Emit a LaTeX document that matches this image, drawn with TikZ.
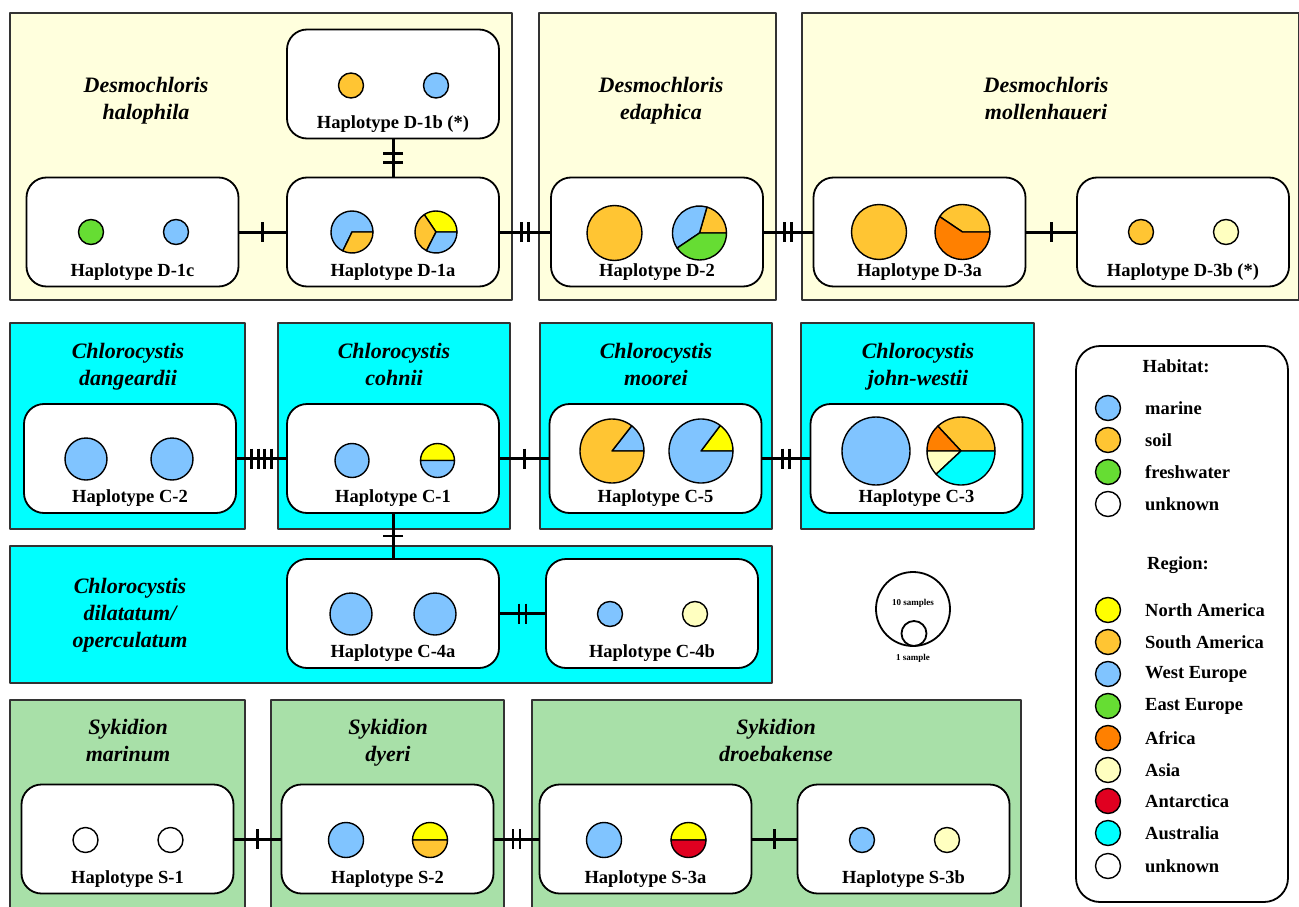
\documentclass[tikz,border=0pt]{standalone}
\usepackage{fontspec}
\setmainfont{Liberation Serif}
\usepackage{tikz}
\usetikzlibrary{decorations.markings}

\definecolor{marineblue}{RGB}{128,196,255}
\definecolor{soilorange}{RGB}{255,197,51}
\definecolor{freshgreen}{RGB}{102,221,51}
\definecolor{namyellow}{RGB}{255,255,0}
\definecolor{africaorange}{RGB}{255,128,0}
\definecolor{asiapale}{RGB}{255,255,192}
\definecolor{antred}{RGB}{224,0,32}
\definecolor{auscyan}{RGB}{0,255,255}
\definecolor{desmobg}{RGB}{255,255,221}
\definecolor{chlorobg}{RGB}{0,255,255}
\definecolor{sykibg}{RGB}{168,224,168}

% one sample circle: centre, radius, colour
\newcommand{\hapdot}[3]{\filldraw[fill=#3,draw=black,line width=1.4pt] (#1) circle[radius=#2];}
% pie wedge: centre, radius, from angle, to angle, colour
\newcommand{\pieslice}[5]{\filldraw[fill=#5,draw=black,line width=1.4pt] (#1) -- ++(-#3:#2) arc[start angle=-#3,end angle=-#4,radius=#2] -- cycle;}

\begin{document}
\begin{tikzpicture}[x=1pt,y=-1pt,line join=round,
  hapbox/.style={draw,line width=1.8pt,fill=white,rounded corners=20pt,minimum width=212pt,minimum height=109pt,inner sep=0pt},
  haplabel/.style={font=\bfseries\fontsize{18.5}{20}\selectfont,inner sep=0pt},
  taxon/.style={font=\bfseries\itshape\fontsize{22}{27}\selectfont,align=center,inner sep=0pt,execute at end node=\strut},
  legtext/.style={font=\bfseries\fontsize{18.5}{20}\selectfont,anchor=west,inner sep=0pt},
  link/.style={line width=3pt},
  bars/.style={postaction={decorate},decoration={markings,mark=at position 0.5 with {\foreach \o in {#1} {\draw[line width=2.8pt] (\o,-10) -- (\o,10);}}}},
  dpanel/.style={draw=black!80,line width=1.4pt,fill=desmobg},
  cpanel/.style={draw=black!80,line width=1.4pt,fill=chlorobg},
  spanel/.style={draw=black!80,line width=1.4pt,fill=sykibg}]
\useasboundingbox (0,0) rectangle (1299,907);

% Desmochloris row
\draw[dpanel] (10,13) rectangle (512,300);
\draw[dpanel] (539,13) rectangle (776,300);
\draw[dpanel] (802,13) rectangle (1299,300);
\node[taxon] (t-halo) at (146,102) {Desmochloris\\halophila};
\node[taxon] (t-edaph) at (661,102) {Desmochloris\\edaphica};
\node[taxon] (t-moll) at (1046,102) {Desmochloris\\mollenhaueri};

\node[hapbox] (hap-d1b) at (393,84) {};
\node[hapbox] (hap-d1c) at (132.5,232) {};
\node[hapbox] (hap-d1a) at (393,232) {};
\node[hapbox] (hap-d2) at (657,232) {};
\node[hapbox] (hap-d3a) at (919.5,232) {};
\node[hapbox] (hap-d3b) at (1183,232) {};
\node[haplabel] (lab-d1b) at ([yshift=-40pt]hap-d1b.center) {Haplotype D-1b (*)};
\node[haplabel] (lab-d1c) at ([yshift=-40pt]hap-d1c.center) {Haplotype D-1c};
\node[haplabel] (lab-d1a) at ([yshift=-40pt]hap-d1a.center) {Haplotype D-1a};
\node[haplabel] (lab-d2) at ([yshift=-40pt]hap-d2.center) {Haplotype D-2};
\node[haplabel] (lab-d3a) at ([yshift=-40pt]hap-d3a.center) {Haplotype D-3a};
\node[haplabel] (lab-d3b) at ([yshift=-40pt]hap-d3b.center) {Haplotype D-3b (*)};

\draw[link,bars={0}] (hap-d1c) -- (hap-d1a);
\draw[link,bars={-4.5,4.5}] (hap-d1b) -- (hap-d1a);
\draw[link,bars={-3.5,3.5}] (hap-d1a) -- (hap-d2);
\draw[link,bars={-3.5,3.5}] (hap-d2) -- (hap-d3a);
\draw[link,bars={0}] (hap-d3a) -- (hap-d3b);

\hapdot{351,85.5}{12.5}{soilorange}
\hapdot{436,85.5}{12.5}{marineblue}
\hapdot{91,232}{12.5}{freshgreen}
\hapdot{176,232}{12.5}{marineblue}
\pieslice{352,232}{21}{0}{244}{marineblue}
\pieslice{352,232}{21}{244}{360}{soilorange}
\pieslice{436,232}{21}{0}{124}{namyellow}
\pieslice{436,232}{21}{124}{243}{soilorange}
\pieslice{436,232}{21}{243}{360}{marineblue}
\hapdot{614.5,233}{27.5}{soilorange}
\pieslice{699.5,233}{27}{0}{74}{soilorange}
\pieslice{699.5,233}{27}{74}{214}{marineblue}
\pieslice{699.5,233}{27}{214}{360}{freshgreen}
\hapdot{879,232}{27.5}{soilorange}
\pieslice{962.5,232}{27.5}{0}{146}{soilorange}
\pieslice{962.5,232}{27.5}{146}{360}{africaorange}
\hapdot{1141,232}{12.5}{soilorange}
\hapdot{1226,232}{12.5}{asiapale}

% Chlorocystis rows
\draw[cpanel] (10,323) rectangle (245,529);
\draw[cpanel] (278,323) rectangle (510,529);
\draw[cpanel] (540,323) rectangle (772,529);
\draw[cpanel] (801,323) rectangle (1034,529);
\draw[cpanel] (10,546) rectangle (772,683);
\node[taxon] (t-dang) at (128,368) {Chlorocystis\\dangeardii};
\node[taxon] (t-cohn) at (394,368) {Chlorocystis\\cohnii};
\node[taxon] (t-moor) at (656,368) {Chlorocystis\\moorei};
\node[taxon] (t-jw) at (918,368) {Chlorocystis\\john-westii};
\node[taxon] (t-dil) at (130,617) {Chlorocystis\\dilatatum/\\operculatum};

\node[hapbox] (hap-c2) at (130,458.5) {};
\node[hapbox] (hap-c1) at (393,458.5) {};
\node[hapbox] (hap-c5) at (655.5,458.5) {};
\node[hapbox] (hap-c3) at (916.5,458.5) {};
\node[hapbox] (hap-c4a) at (393,613.5) {};
\node[hapbox] (hap-c4b) at (652,613.5) {};
\node[haplabel] (lab-c2) at ([yshift=-40pt]hap-c2.center) {Haplotype C-2};
\node[haplabel] (lab-c1) at ([yshift=-40pt]hap-c1.center) {Haplotype C-1};
\node[haplabel] (lab-c5) at ([yshift=-40pt]hap-c5.center) {Haplotype C-5};
\node[haplabel] (lab-c3) at ([yshift=-40pt]hap-c3.center) {Haplotype C-3};
\node[haplabel] (lab-c4a) at ([yshift=-40pt]hap-c4a.center) {Haplotype C-4a};
\node[haplabel] (lab-c4b) at ([yshift=-40pt]hap-c4b.center) {Haplotype C-4b};

\draw[link,bars={-10,-3.3,3.3,10}] (hap-c2) -- (hap-c1);
\draw[link,bars={0}] (hap-c1) -- (hap-c5);
\draw[link,bars={-3.5,3.5}] (hap-c5) -- (hap-c3);
\draw[link,bars={0}] (hap-c1) -- (hap-c4a);
\draw[link,bars={-3.5,3.5}] (hap-c4a) -- (hap-c4b);

\hapdot{86,459}{21}{marineblue}
\hapdot{172,459}{21}{marineblue}
\hapdot{352,460.5}{17}{marineblue}
\pieslice{437.5,460.5}{17}{0}{180}{namyellow}
\pieslice{437.5,460.5}{17}{180}{360}{marineblue}
\pieslice{612,451}{32}{0}{52}{marineblue}
\pieslice{612,451}{32}{52}{360}{soilorange}
\pieslice{701,451}{32}{0}{53}{namyellow}
\pieslice{701,451}{32}{53}{360}{marineblue}
\hapdot{876,451}{34}{marineblue}
\pieslice{961,451}{34}{0}{133}{soilorange}
\pieslice{961,451}{34}{133}{180}{africaorange}
\pieslice{961,451}{34}{180}{223}{asiapale}
\pieslice{961,451}{34}{223}{360}{auscyan}
\hapdot{351,614}{21}{marineblue}
\hapdot{435,614}{21}{marineblue}
\hapdot{610,614}{12.5}{marineblue}
\hapdot{695,614}{12.5}{asiapale}

% Sykidion row
\draw[spanel] (10,700) rectangle (245,915);
\draw[spanel] (271,700) rectangle (504,915);
\draw[spanel] (532,700) rectangle (1021,915);
\node[taxon] (t-mar) at (128,744) {Sykidion\\marinum};
\node[taxon] (t-dyer) at (388,744) {Sykidion\\dyeri};
\node[taxon] (t-droe) at (776,744) {Sykidion\\droebakense};

\node[hapbox] (hap-s1) at (127.5,839) {};
\node[hapbox] (hap-s2) at (387.5,839) {};
\node[hapbox] (hap-s3a) at (645.5,839) {};
\node[hapbox] (hap-s3b) at (903.5,839) {};
\node[haplabel] (lab-s1) at ([yshift=-40pt]hap-s1.center) {Haplotype S-1};
\node[haplabel] (lab-s2) at ([yshift=-40pt]hap-s2.center) {Haplotype S-2};
\node[haplabel] (lab-s3a) at ([yshift=-40pt]hap-s3a.center) {Haplotype S-3a};
\node[haplabel] (lab-s3b) at ([yshift=-40pt]hap-s3b.center) {Haplotype S-3b};

\draw[link,bars={0}] (hap-s1) -- (hap-s2);
\draw[link,bars={-3.5,3.5}] (hap-s2) -- (hap-s3a);
\draw[link,bars={0}] (hap-s3a) -- (hap-s3b);

\hapdot{85.5,840}{12.5}{white}
\hapdot{170.5,840}{12.5}{white}
\hapdot{346,840}{17.5}{marineblue}
\pieslice{430,840}{17.5}{0}{180}{namyellow}
\pieslice{430,840}{17.5}{180}{360}{soilorange}
\hapdot{604,840}{17.5}{marineblue}
\pieslice{688.5,840}{17.5}{0}{180}{namyellow}
\pieslice{688.5,840}{17.5}{180}{360}{antred}
\hapdot{862,840}{12.5}{marineblue}
\hapdot{947,840}{12.5}{asiapale}

% sample size scale
\draw[line width=1.8pt] (913,609) circle[radius=37];
\draw[line width=1.8pt] (914,633.5) circle[radius=12.5];
\node[font=\bfseries\fontsize{9}{10}\selectfont,inner sep=0pt] (s10) at (913,603) {10 samples};
\node[font=\bfseries\fontsize{9}{10}\selectfont,inner sep=0pt] (s1) at (913,658) {1 sample};

% legend
\node[draw,line width=1.8pt,fill=white,rounded corners=24pt,minimum width=212pt,minimum height=556pt] (legend) at (1182,624) {};
\node[legtext,anchor=center] (hab) at (1176,366) {Habitat:};
\foreach \y/\c/\t [count=\i] in {408/marineblue/marine,440/soilorange/soil,472/freshgreen/freshwater,504/white/unknown}{
  \hapdot{1108,\y}{12.5}{\c}
  \node[legtext] (hab-\i) at (1145,\y) {\t};
}
\node[legtext,anchor=center] (reg) at (1178,565) {Region:};
\foreach \y/\c/\t [count=\i] in {610/namyellow/North America,642/soilorange/South America,674/marineblue/West Europe,706/freshgreen/East Europe,738/africaorange/Africa,770/asiapale/Asia,801/antred/Antarctica,833/auscyan/Australia,866/white/unknown}{
  \hapdot{1108,\y}{12.5}{\c}
  \node[legtext] (reg-\i) at (1145,\y) {\t};
}
\end{tikzpicture}
\end{document}
